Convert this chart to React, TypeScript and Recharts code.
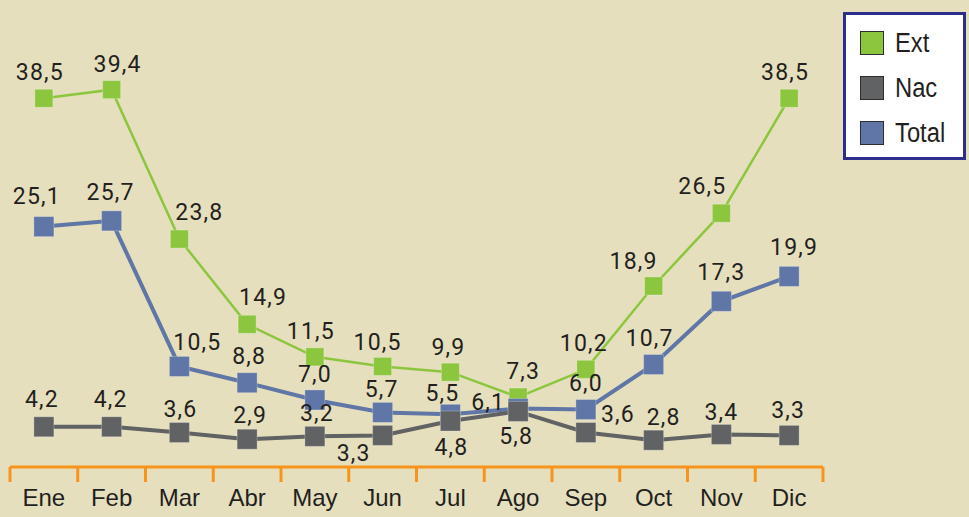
import React from 'react';
import { LineChart, Line, XAxis, YAxis, Legend, LabelList } from 'recharts';

const months = ['Ene', 'Feb', 'Mar', 'Abr', 'May', 'Jun', 'Jul', 'Ago', 'Sep', 'Oct', 'Nov', 'Dic'];
const extValues = [38.5, 39.4, 23.8, 14.9, 11.5, 10.5, 9.9, 7.3, 10.2, 18.9, 26.5, 38.5];
const nacValues = [4.2, 4.2, 3.6, 2.9, 3.2, 3.3, 4.8, 5.8, 3.6, 2.8, 3.4, 3.3];
const totalValues = [25.1, 25.7, 10.5, 8.8, 7.0, 5.7, 5.5, 6.1, 6.0, 10.7, 17.3, 19.9];

// label placement (offset of label centre from its marker)
const extLabelOffset = [[-4, -26], [6, -25], [20, -27], [16, -27], [-4, -25], [-5, -24], [-2, -25], [5, -26], [-2, -26], [-20, -24], [-19, -27], [-4, -26]];
const totalLabelOffset = [[-7, -30], [-1, -28], [18, -24], [2, -26], [0, -25], [-1, -23], [-8, -21], [-30, -6], [0, -26], [-4, -26], [0, -29], [5, -29]];
const nacLabelOffset = [[-2, -27], [-1, -27], [1, -23], [3, -24], [2, -23], [-29, 18], [1, 26], [-2, 25], [32, -18], [10, -23], [0, -22], [-1, -25]];

const data = months.map((m, i) => ({ month: m, ext: extValues[i], nac: nacValues[i], total: totalValues[i] }));

const W = 969;
const H = 517;
const MARGIN = { top: 36, right: 146, left: 10, bottom: 0 };
const BAND = (W - MARGIN.left - MARGIN.right) / months.length;

const BG = '#E6DFBD';
const GREEN = '#8CC63F';
const GRAY = '#616264';
const BLUE = '#5F76A6';
const ORANGE = '#F7941D';
const TEXT = '#231F20';

const series = [
  { key: 'ext', name: 'Ext', color: GREEN },
  { key: 'nac', name: 'Nac', color: GRAY },
  { key: 'total', name: 'Total', color: BLUE },
];

const fmt = (v: number) => v.toFixed(1).replace('.', ',');

const makeDot = (color: string, size: number) => (props: any) => {
  const { cx, cy, index } = props;
  if (cx == null || cy == null) return <g key={`e-${index}`} />;
  return (
    <rect
      key={`d-${index}`}
      x={cx - size / 2}
      y={cy - size / 2}
      width={size}
      height={size}
      fill={color}
      stroke="rgba(255,255,255,0.25)"
      strokeWidth={1}
    />
  );
};

const makeLabel = (offsets: number[][]) => (props: any) => {
  const vb = props.viewBox || {};
  const x = vb.x ?? props.x;
  const y = vb.y ?? props.y;
  const idx = props.index ?? 0;
  const off = offsets[idx] || [0, -26];
  return (
    <text
      key={`l-${idx}`}
      x={x + off[0]}
      y={y + off[1]}
      textAnchor="middle"
      dominantBaseline="central"
      fontFamily="Roboto, 'Noto Sans', sans-serif"
      fontSize={23}
      letterSpacing={1.2}
      fill={TEXT}
    >
      {fmt(Number(props.value))}
    </text>
  );
};

const XTick = (props: any) => {
  const { x, y, payload, index } = props;
  return (
    <g>
      <line x1={x - BAND / 2} x2={x - BAND / 2} y1={y} y2={y + 15} stroke={ORANGE} strokeWidth={3} />
      {index === months.length - 1 && (
        <line x1={x + BAND / 2} x2={x + BAND / 2} y1={y} y2={y + 15} stroke={ORANGE} strokeWidth={3} />
      )}
      <text
        x={x}
        y={y + 30}
        textAnchor="middle"
        dominantBaseline="central"
        fontFamily="'Liberation Sans', Arial, sans-serif"
        fontSize={24}
        fill={TEXT}
      >
        {payload.value}
      </text>
    </g>
  );
};

const LegendBox = () => (
  <div
    style={{
      boxSizing: 'border-box',
      width: 123,
      height: 148,
      background: '#FFFFFF',
      border: '3px solid #2B2E8C',
      position: 'relative',
    }}
  >
    {series.map((s, i) => (
      <div
        key={s.key}
        style={{
          position: 'absolute',
          left: 14,
          top: 15 + i * 45,
          height: 26,
          display: 'flex',
          alignItems: 'center',
        }}
      >
        <div
          style={{
            width: 24,
            height: 24,
            background: s.color,
            border: '1px solid #2D2D2D',
            boxSizing: 'border-box',
          }}
        />
        <span
          style={{
            marginLeft: 11,
            fontFamily: "'Liberation Sans', Arial, sans-serif",
            fontSize: 27,
            color: TEXT,
            lineHeight: '26px',
            display: 'inline-block',
            transform: 'scaleX(0.88)',
            transformOrigin: 'left center',
          }}
        >
          {s.name}
        </span>
      </div>
    ))}
  </div>
);

export default function App() {
  return (
    <div style={{ position: 'absolute', left: 0, top: 0, width: W, height: H, background: BG }}>
      <LineChart width={W} height={H} data={data} margin={MARGIN} style={{ background: BG }}>
        <XAxis
          dataKey="month"
          scale="band"
          axisLine={{ stroke: ORANGE, strokeWidth: 3 }}
          tickLine={false}
          tickSize={0}
          tickMargin={0}
          height={50}
          interval={0}
          tick={<XTick />}
        />
        <YAxis hide domain={[0, 45]} />
        <Legend
          layout="horizontal"
          verticalAlign="middle"
          align="center"
          wrapperStyle={{ top: 12, left: 843, width: 123, height: 148 }}
          content={() => <LegendBox />}
        />
        <Line
          dataKey="ext"
          name="Ext"
          stroke={GREEN}
          strokeWidth={2.5}
          dot={makeDot(GREEN, 18)}
          activeDot={false}
          isAnimationActive={false}
        >
          <LabelList dataKey="ext" content={makeLabel(extLabelOffset)} />
        </Line>
        <Line
          dataKey="total"
          name="Total"
          stroke={BLUE}
          strokeWidth={4}
          dot={makeDot(BLUE, 20)}
          activeDot={false}
          isAnimationActive={false}
        >
          <LabelList dataKey="total" content={makeLabel(totalLabelOffset)} />
        </Line>
        <Line
          dataKey="nac"
          name="Nac"
          stroke={GRAY}
          strokeWidth={4}
          dot={makeDot(GRAY, 20)}
          activeDot={false}
          isAnimationActive={false}
        >
          <LabelList dataKey="nac" content={makeLabel(nacLabelOffset)} />
        </Line>
      </LineChart>
    </div>
  );
}
